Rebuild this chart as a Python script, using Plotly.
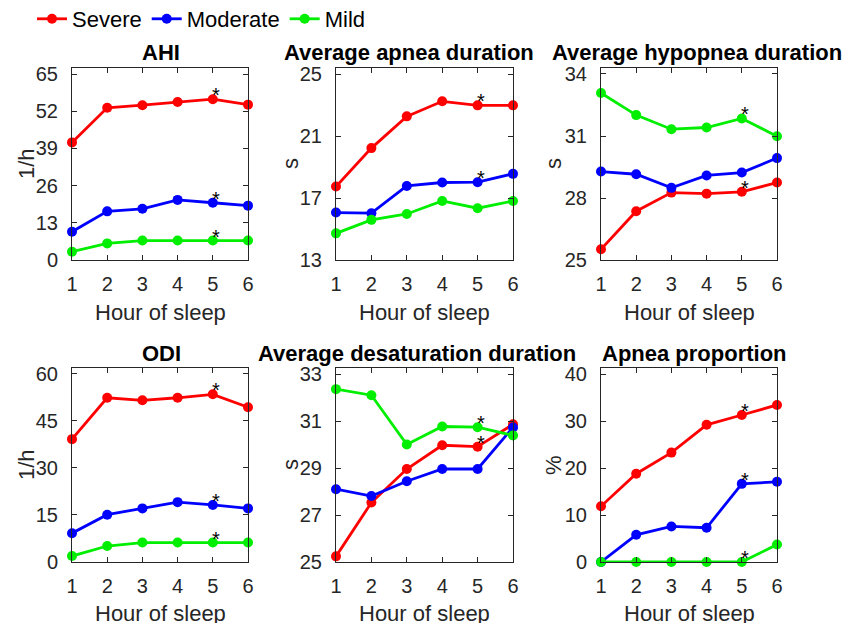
import plotly.graph_objects as go

# ---------------- data ----------------
hours = [1, 2, 3, 4, 5, 6]
series_names = ["Severe", "Moderate", "Mild"]

ahi_severe = [41.1, 53.2, 54.1, 55.2, 56.2, 54.3]
ahi_moderate = [9.9, 17.0, 17.9, 21.0, 20.0, 19.0]
ahi_mild = [2.9, 5.8, 6.8, 6.8, 6.8, 6.8]

apnea_dur_severe = [17.74, 20.22, 22.27, 23.24, 22.98, 22.98]
apnea_dur_moderate = [16.06, 16.02, 17.78, 18.0, 18.02, 18.56]
apnea_dur_mild = [14.72, 15.59, 15.97, 16.81, 16.34, 16.81]

hypop_dur_severe = [25.52, 27.36, 28.26, 28.21, 28.30, 28.75]
hypop_dur_moderate = [29.28, 29.15, 28.49, 29.09, 29.23, 29.93]
hypop_dur_mild = [33.08, 32.01, 31.33, 31.41, 31.85, 30.99]

odi_severe = [39.2, 52.4, 51.6, 52.4, 53.5, 49.4]
odi_moderate = [9.2, 15.1, 17.1, 19.1, 18.2, 17.1]
odi_mild = [1.9, 5.1, 6.2, 6.2, 6.2, 6.2]

desat_dur_severe = [25.24, 27.53, 28.96, 29.97, 29.91, 30.86]
desat_dur_moderate = [28.10, 27.81, 28.44, 28.96, 28.96, 30.73]
desat_dur_mild = [32.36, 32.10, 30.00, 30.77, 30.74, 30.39]

apnea_prop_severe = [11.86, 18.79, 23.29, 29.21, 31.29, 33.43]
apnea_prop_moderate = [0.0, 5.79, 7.57, 7.29, 16.64, 17.07]
apnea_prop_mild = [0.0, 0.0, 0.0, 0.0, 0.0, 3.71]

titles = ["AHI", "Average apnea duration", "Average hypopnea duration",
          "ODI", "Average desaturation duration", "Apnea proportion"]
units = ["1/h", "s", "s", "1/h", "s", "%"]
ytick_vals = [[0, 13, 26, 39, 52, 65], [13, 17, 21, 25], [25, 28, 31, 34],
              [0, 15, 30, 45, 60], [25, 27, 29, 31, 33], [0, 10, 20, 30, 40]]
yranges = [[0, 67.1], [13, 25.39], [25, 34.29], [0, 61.9], [25, 33.26], [0, 41.3]]
star_hour = 5
# which series (0 severe,1 moderate,2 mild) carry a significance star at star_hour
star_series = [[0, 1, 2], [0, 1], [2, 0], [0, 1, 2], [2, 0], [0, 1, 2]]

panel_data = [
    (ahi_severe, ahi_moderate, ahi_mild),
    (apnea_dur_severe, apnea_dur_moderate, apnea_dur_mild),
    (hypop_dur_severe, hypop_dur_moderate, hypop_dur_mild),
    (odi_severe, odi_moderate, odi_mild),
    (desat_dur_severe, desat_dur_moderate, desat_dur_mild),
    (apnea_prop_severe, apnea_prop_moderate, apnea_prop_mild),
]

# ---------------- style ----------------
W, H = 859, 623
colors = ["#ff0000", "#0000ff", "#00ee00"]
FONT = "Liberation Sans, Arial, sans-serif"
AX = "#262626"

def px(x):
    return x / W

def py(y):
    return 1 - y / H

col_px = [(72, 248), (336, 513), (601, 777)]
row_px = [(68, 260), (368, 562)]
ylab_x = [26, 290, 553]
title_y = [52, 353]
title_cx = [161, 409, 697, 161, 417, 694]
xlab_y = [312, 613]

fig = go.Figure()
layout = dict(
    width=W, height=H, margin=dict(l=0, r=0, t=0, b=0, autoexpand=False),
    paper_bgcolor="white", plot_bgcolor="white",
    font=dict(family=FONT, size=22, color=AX),
    showlegend=True,
    legend=dict(orientation="h", x=px(32), y=py(19), xanchor="left", yanchor="middle",
                font=dict(size=22, color="black"), bgcolor="rgba(0,0,0,0)",
                itemwidth=30, tracegroupgap=0),
)
annotations = []

for i in range(6):
    r, c = divmod(i, 3)
    n = i + 1
    xa = "xaxis" if n == 1 else f"xaxis{n}"
    ya = "yaxis" if n == 1 else f"yaxis{n}"
    xr = "x" if n == 1 else f"x{n}"
    yr = "y" if n == 1 else f"y{n}"
    x0, x1 = col_px[c]
    y0, y1 = row_px[r]
    common = dict(showgrid=False, zeroline=False, showline=True, linecolor=AX,
                  linewidth=1, mirror="allticks", ticks="inside", ticklen=5,
                  tickcolor=AX, tickwidth=1, tickfont=dict(size=20, color=AX),
                  automargin=False)
    layout[xa] = dict(domain=[px(x0), px(x1)], anchor=yr, range=[1, 6],
                      tickvals=hours, ticklabelstandoff=6, **common)
    layout[ya] = dict(domain=[py(y1), py(y0)], anchor=xr, range=yranges[i],
                      tickvals=ytick_vals[i], ticklabelstandoff=9, **common)
    for s in range(3):
        fig.add_trace(go.Scatter(
            x=hours, y=panel_data[i][s], mode="lines+markers",
            name=series_names[s], legendgroup=series_names[s], showlegend=(i == 0),
            line=dict(color=colors[s], width=2.8),
            marker=dict(color=colors[s], size=10),
            xaxis=xr, yaxis=yr, cliponaxis=False))
    for s in star_series[i]:
        annotations.append(dict(
            x=star_hour, y=panel_data[i][s][hours.index(star_hour)], xref=xr, yref=yr,
            text="*", showarrow=False, xanchor="center", yanchor="middle",
            xshift=3, yshift=4, font=dict(size=20, color="black")))
    # panel title
    annotations.append(dict(x=px(title_cx[i]), y=py(title_y[r]), xref="paper", yref="paper",
                            text=f"<b>{titles[i]}</b>", showarrow=False,
                            xanchor="center", yanchor="middle",
                            font=dict(size=22, color="black")))
    # x label
    annotations.append(dict(x=px((x0 + x1) / 2), y=py(xlab_y[r]), xref="paper", yref="paper",
                            text="Hour of sleep", showarrow=False,
                            xanchor="center", yanchor="middle",
                            font=dict(size=22, color=AX)))
    # y label
    annotations.append(dict(x=px(ylab_x[c]), y=py((y0 + y1) / 2), xref="paper", yref="paper",
                            text=units[i], showarrow=False, textangle=-90,
                            xanchor="center", yanchor="middle",
                            font=dict(size=22, color=AX)))

layout["annotations"] = annotations
fig.update_layout(**layout)
fig.write_html("out.html")
